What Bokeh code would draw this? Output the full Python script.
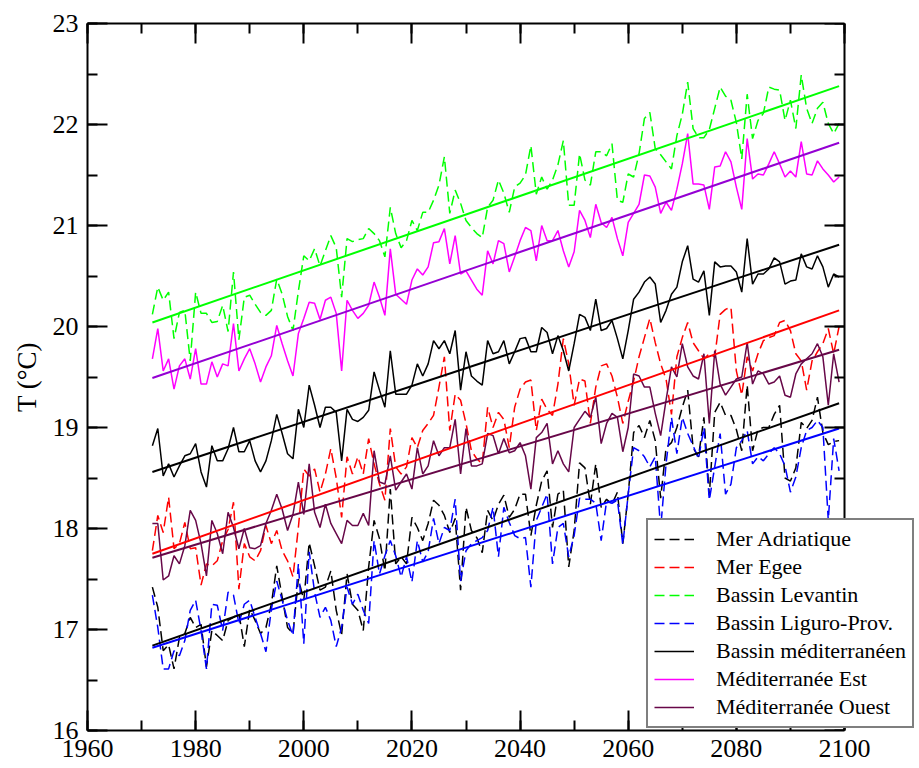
from bokeh.plotting import figure
from bokeh.models import (Legend, LegendItem, LinearAxis, SingleIntervalTicker, Range1d,
                          CustomJSTickFormatter)
from bokeh.embed import file_html
from bokeh.resources import INLINE

# ---------------- data ----------------
years = list(range(1972, 2100))

levantin = [
    20.12, 20.39, 20.26, 20.34, 19.88, 20.14, 20.16, 19.66,
    20.34, 20.13, 20.13, 20.04, 20.05, 20.21, 19.95, 20.54, 19.87, 20.29,
    20.31, 20.22, 20.14, 20.11, 20.16, 20.47, 20.32, 20.10, 19.96, 20.35,
    20.70, 20.65, 20.77, 20.60, 20.75, 20.90, 20.78, 20.29, 20.87, 20.84,
    20.86, 20.87, 20.97, 20.92, 20.85, 20.69, 21.18, 20.92, 20.78, 20.85,
    21.05, 20.95, 21.13, 21.13, 21.25, 21.40, 21.68, 21.12, 21.35, 21.22,
    21.05, 20.98, 20.92, 20.88, 21.18, 21.25, 21.45, 21.32, 21.13, 21.38,
    21.42, 21.50, 21.79, 21.31, 21.48, 21.36, 21.45, 21.60, 21.84, 21.20,
    21.20, 21.71, 21.45, 21.40, 21.73, 21.73, 21.69, 21.81, 21.25, 21.23,
    21.51, 21.48, 21.71, 22.06, 22.12, 21.76, 21.70, 21.63, 21.56, 21.89,
    22.10, 22.42, 21.96, 21.87, 21.87, 21.95, 22.16, 22.37, 22.28, 22.24,
    22.02, 21.66, 22.30, 21.86, 22.04, 22.11, 22.37, 22.35, 22.34, 22.04,
    22.24, 21.96, 22.49, 22.16, 22.01, 22.16, 22.22, 22.01, 21.91, 22.01,
]

med_est = [
    19.68, 19.98, 19.56, 19.68, 19.38, 19.61, 19.68, 19.48,
    19.78, 19.43, 19.43, 19.65, 19.50, 19.63, 19.61, 20.03, 19.56, 19.68,
    19.78, 19.63, 19.45, 19.60, 19.71, 20.01, 19.83, 19.66, 19.51, 19.93,
    20.08, 20.24, 20.23, 20.07, 20.26, 20.29, 20.13, 19.56, 20.26, 20.16,
    20.08, 20.13, 20.21, 20.44, 20.29, 20.11, 20.77, 20.32, 20.27, 20.22,
    20.46, 20.57, 20.51, 20.59, 20.83, 20.84, 20.97, 20.62, 20.90, 20.52,
    20.55, 20.46, 20.37, 20.31, 20.75, 20.62, 20.85, 20.82, 20.54, 20.69,
    20.85, 20.98, 20.95, 20.65, 21.00, 20.85, 20.85, 20.95, 20.75, 20.59,
    20.74, 21.15, 21.05, 20.88, 21.21, 21.03, 20.98, 21.08, 20.87, 20.70,
    21.03, 21.12, 21.21, 21.50, 21.49, 21.38, 21.12, 21.23, 21.15, 21.36,
    21.61, 21.91, 21.41, 21.41, 21.40, 21.16, 21.58, 21.59, 21.73, 21.63,
    21.38, 21.16, 21.86, 21.46, 21.51, 21.50, 21.61, 21.73, 21.61, 21.48,
    21.54, 21.48, 21.83, 21.51, 21.50, 21.64, 21.56, 21.50, 21.43, 21.48,
]

bassin_med = [
    18.82, 18.99, 18.52, 18.64, 18.51, 18.62, 18.72, 18.74,
    18.84, 18.56, 18.41, 18.82, 18.67, 18.67, 18.79, 19.00, 18.76, 18.76,
    18.87, 18.67, 18.56, 18.67, 18.87, 19.13, 18.94, 18.74, 18.69, 19.18,
    19.00, 19.42, 19.22, 19.00, 19.20, 19.20, 19.15, 18.67, 19.18, 19.08,
    19.06, 19.10, 19.17, 19.55, 19.37, 19.20, 19.76, 19.33, 19.33, 19.33,
    19.42, 19.63, 19.51, 19.63, 19.86, 19.78, 19.86, 19.73, 19.96, 19.37,
    19.75, 19.51, 19.46, 19.42, 19.86, 19.73, 19.75, 19.86, 19.63, 19.75,
    19.88, 19.89, 19.75, 19.75, 19.99, 19.94, 19.73, 19.91, 19.76, 19.56,
    19.83, 20.12, 20.09, 19.96, 20.27, 19.96, 19.98, 20.06, 19.88, 19.68,
    19.96, 20.27, 20.34, 20.44, 20.49, 20.42, 20.04, 20.16, 20.32, 20.39,
    20.64, 20.80, 20.47, 20.44, 20.55, 20.11, 20.64, 20.59, 20.60, 20.60,
    20.54, 20.34, 20.87, 20.42, 20.52, 20.52, 20.57, 20.68, 20.64, 20.42,
    20.45, 20.46, 20.72, 20.59, 20.57, 20.70, 20.59, 20.39, 20.52, 20.49,
]

egee = [
    17.78, 18.13, 17.96, 18.31, 17.80, 17.85, 18.06, 17.80,
    17.81, 17.44, 17.65, 17.63, 17.68, 17.88, 17.99, 18.26, 17.40, 17.85,
    17.72, 17.68, 17.78, 18.03, 17.85, 17.98, 17.78, 17.68, 17.52, 18.01,
    18.59, 18.52, 18.59, 18.36, 18.54, 18.79, 18.50, 18.11, 18.71, 18.54,
    18.71, 18.54, 18.89, 18.64, 18.44, 18.28, 18.99, 18.61, 18.54, 18.61,
    18.90, 18.80, 18.97, 19.04, 19.12, 19.40, 19.70, 18.97, 19.33, 19.27,
    19.04, 18.77, 18.69, 18.64, 19.20, 19.00, 19.15, 19.08, 18.80, 19.20,
    19.38, 19.45, 19.47, 18.97, 19.28, 19.18, 19.12, 19.43, 19.88, 19.63,
    19.22, 19.48, 19.46, 19.04, 19.40, 19.61, 19.63, 19.51, 19.30, 19.04,
    19.26, 19.46, 19.70, 19.89, 20.08, 19.84, 19.63, 19.48, 19.13, 19.70,
    19.89, 20.04, 19.84, 19.76, 19.68, 19.73, 19.70, 20.12, 20.17, 20.19,
    19.56, 19.32, 19.70, 19.56, 19.73, 19.86, 19.89, 19.91, 20.04, 20.06,
    19.96, 19.73, 19.66, 19.37, 19.66, 19.75, 19.83, 19.98, 19.73, 20.00,
]

med_ouest = [
    18.05, 18.05, 17.49, 17.53, 17.73, 17.65, 17.83, 18.18,
    18.08, 17.85, 17.53, 18.08, 17.95, 17.75, 18.16, 18.01, 17.80, 18.00,
    17.81, 17.80, 17.83, 18.05, 18.18, 18.34, 18.19, 17.98, 18.14, 18.46,
    18.14, 18.64, 18.16, 18.01, 18.24, 18.05, 17.95, 17.85, 18.08, 18.03,
    18.03, 18.15, 18.03, 18.77, 18.46, 18.44, 18.72, 18.38, 18.46, 18.54,
    18.39, 18.80, 18.54, 18.62, 18.87, 18.72, 18.80, 18.80, 19.08, 18.54,
    18.99, 18.62, 18.62, 18.64, 18.94, 18.92, 18.74, 18.89, 18.75, 18.77,
    18.85, 18.72, 18.39, 18.90, 18.95, 19.04, 18.64, 18.77, 18.64, 18.56,
    19.00, 19.08, 19.16, 19.10, 19.30, 18.84, 19.04, 19.14, 19.10, 18.76,
    19.00, 19.53, 19.51, 19.40, 19.40, 19.14, 18.92, 19.27, 19.60, 19.50,
    19.83, 19.60, 19.51, 19.48, 19.73, 19.04, 19.76, 19.43, 19.32, 19.40,
    19.48, 19.50, 19.84, 19.43, 19.56, 19.53, 19.43, 19.45, 19.51, 19.32,
    19.30, 19.53, 19.63, 19.68, 19.73, 19.83, 19.70, 19.22, 19.73, 19.45,
]

adriatique = [
    17.42, 17.22, 16.79, 16.85, 16.61, 16.92, 16.96, 17.12,
    17.02, 17.05, 16.63, 16.99, 16.94, 16.89, 17.09, 17.12, 17.16, 16.83,
    17.20, 17.09, 16.96, 17.02, 17.25, 17.63, 17.32, 17.02, 16.96, 17.50,
    17.29, 17.86, 17.63, 17.39, 17.42, 17.58, 17.19, 16.95, 17.55, 17.25,
    17.19, 16.99, 17.62, 18.08, 17.90, 17.58, 18.39, 17.65, 17.72, 17.65,
    18.11, 18.01, 17.88, 18.05, 18.28, 18.23, 18.13, 17.96, 18.10, 17.39,
    18.21, 17.98, 17.91, 17.76, 18.18, 18.08, 18.24, 18.33, 18.11, 18.19,
    18.34, 18.34, 17.93, 18.23, 18.47, 18.57, 18.01, 18.34, 18.38, 17.62,
    17.98, 18.65, 18.60, 18.24, 18.64, 18.21, 18.29, 18.24, 18.36, 17.85,
    18.34, 18.95, 19.02, 18.90, 19.07, 18.87, 18.30, 18.80, 18.85, 19.00,
    19.20, 19.37, 18.80, 18.71, 19.10, 18.33, 19.15, 19.25, 19.12, 19.12,
    18.98, 18.77, 19.42, 18.77, 18.98, 19.00, 19.00, 19.13, 19.22, 18.50,
    18.47, 18.60, 19.05, 18.99, 19.07, 19.30, 18.95, 18.83, 18.86, 18.87,
]

liguro = [
    17.34, 17.02, 16.61, 16.61, 16.79, 16.74, 16.89, 17.19,
    17.29, 16.99, 16.61, 17.25, 17.24, 16.99, 17.37, 17.34, 17.06, 17.25,
    17.29, 17.12, 16.96, 16.78, 17.20, 17.48, 17.29, 17.09, 16.94, 17.65,
    16.86, 17.77, 17.37, 17.12, 17.22, 17.09, 16.83, 17.02, 17.42, 17.25,
    17.35, 17.19, 17.06, 17.88, 17.55, 17.73, 17.88, 17.73, 17.52, 17.72,
    17.47, 17.88, 17.67, 17.77, 18.10, 17.85, 18.01, 17.98, 18.29, 17.48,
    17.78, 17.85, 17.88, 17.91, 17.98, 18.21, 17.72, 18.21, 18.06, 17.93,
    17.90, 17.91, 17.42, 18.08, 18.21, 18.34, 17.65, 18.01, 18.05, 17.72,
    17.93, 18.30, 18.29, 18.29, 18.25, 17.88, 18.27, 18.25, 18.28, 17.84,
    18.34, 18.80, 18.77, 18.71, 18.61, 18.71, 18.00, 18.64, 19.10, 18.74,
    19.10, 18.94, 18.82, 18.69, 19.00, 18.28, 18.61, 18.94, 18.34, 18.44,
    18.80, 18.87, 18.97, 18.64, 18.71, 18.67, 18.74, 18.80, 18.74, 18.62,
    18.36, 18.51, 18.80, 18.97, 19.00, 19.07, 19.00, 18.08, 18.89, 18.57,
]

# linear trends (values at first and last year)
trend_years = [1972, 2099]
trend_adriatique = [16.84, 19.24]
trend_egee = [17.75, 20.16]
trend_levantin = [20.04, 22.38]
trend_liguro = [16.82, 18.99]
trend_bassin = [18.56, 20.81]
trend_est = [19.49, 21.82]
trend_ouest = [17.71, 19.77]

labels = ["Mer Adriatique", "Mer Egee", "Bassin Levantin", "Bassin Liguro-Prov.",
          "Bassin méditerranéen", "Méditerranée Est", "Méditerranée Ouest"]

X_START, X_END = 1960, 2100
Y_START, Y_END = 16, 23

for s in (levantin, med_est, bassin_med, egee, med_ouest, adriatique, liguro):
    assert len(s) == len(years), len(s)

# ---------------- layout ----------------
FONT = "Liberation Serif"
MAROON = "#670748"
VIOLET = "#9400d3"

LEFT, RIGHT_AXIS_PX, W = 87, 844, 919
RIGHT_BORDER = 3
px_per_year = (RIGHT_AXIS_PX - LEFT) / (X_END - X_START)
# the frame runs on past 2100 so that the legend box can stand out to the right edge
x_view_end = X_START + (W - RIGHT_BORDER - LEFT) / px_per_year

p = figure(width=W, height=768, x_range=Range1d(X_START, x_view_end), y_range=Range1d(Y_START, Y_END),
           output_backend="svg", toolbar_location=None,
           min_border_left=LEFT, min_border_right=RIGHT_BORDER, min_border_top=23, min_border_bottom=38)
p.grid.visible = False
p.outline_line_color = None
p.background_fill_color = "white"
p.border_fill_color = "white"

bottom = p.below[0]
left = p.left[0]
bottom.ticker = SingleIntervalTicker(interval=20, num_minor_ticks=2)
bottom.bounds = (X_START, X_END)
left.ticker = SingleIntervalTicker(interval=1, num_minor_ticks=2)

blank = CustomJSTickFormatter(code="return ''")
top = LinearAxis(ticker=SingleIntervalTicker(interval=20, num_minor_ticks=2),
                 bounds=(X_START, X_END), formatter=blank, major_label_standoff=0)
right = LinearAxis(ticker=SingleIntervalTicker(interval=1, num_minor_ticks=2),
                   fixed_location=X_END, formatter=blank, major_label_standoff=0)
p.add_layout(top, "above")
p.add_layout(right, "right")

for ax in (bottom, left, top, right):
    ax.axis_line_width = 2
    ax.axis_line_color = "black"
    ax.major_tick_line_width = 2
    ax.minor_tick_line_width = 2
    ax.major_tick_in = 20
    ax.major_tick_out = 0
    ax.minor_tick_in = 10
    ax.minor_tick_out = 0

for ax in (bottom, left):
    ax.major_label_text_font = FONT
    ax.major_label_text_font_size = "26px"
    ax.major_label_text_color = "black"
bottom.major_label_standoff = 9
left.major_label_standoff = 9

left.axis_label = "T (°C)"
left.axis_label_text_font = FONT
left.axis_label_text_font_size = "27px"
left.axis_label_text_font_style = "normal"
left.axis_label_text_color = "black"
left.axis_label_standoff = 8

DASH = "10 5"
series = [
    (adriatique, "black", DASH, trend_adriatique, "black"),
    (egee, "red", DASH, trend_egee, "red"),
    (levantin, "#00ff00", DASH, trend_levantin, "#00ff00"),
    (liguro, "blue", DASH, trend_liguro, "blue"),
    (bassin_med, "black", "solid", trend_bassin, "black"),
    (med_est, "magenta", "solid", trend_est, VIOLET),
    (med_ouest, MAROON, "solid", trend_ouest, MAROON),
]

renderers = []
for vals, col, dash, tr, tcol in series:
    r = p.line(years, vals, line_color=col, line_width=1.5, line_dash=dash)
    renderers.append(r)
for vals, col, dash, tr, tcol in series:
    p.line(trend_years, tr, line_color=tcol, line_width=2)

items = [LegendItem(label=lab, renderers=[r]) for lab, r in zip(labels, renderers)]
legend = Legend(items=items, location=(646 - LEFT, 2), margin=0, padding=6,
                spacing=2, label_height=20, glyph_height=20, glyph_width=40,
                label_standoff=22, label_text_font=FONT, label_text_font_size="22px",
                label_text_color="black",
                border_line_color="black", border_line_width=2,
                background_fill_color="white", background_fill_alpha=1.0)
p.add_layout(legend)

open("out.html", "w").write(file_html(p, INLINE))
